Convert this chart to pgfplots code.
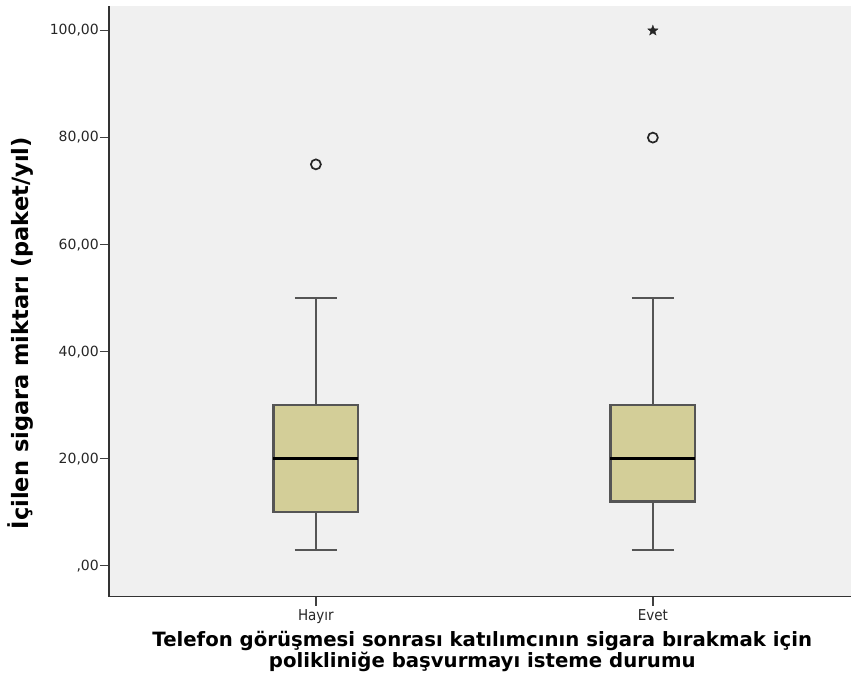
\documentclass[border=0pt]{standalone}
\usepackage{pgfplots}
\pgfplotsset{compat=1.18}
\usepgfplotslibrary{statistics}
\usepackage{fontspec}
\setmainfont{DejaVu Sans}
\newfontfamily\condfont{DejaVu Sans Condensed}
\definecolor{bgc}{RGB}{240,240,240}
\definecolor{boxc}{RGB}{211,206,152}
\definecolor{linec}{RGB}{85,85,85}
\pgfdeclareplotmark{fstar}{%
  \pgfpathmoveto{\pgfpointpolar{90}{\pgfplotmarksize}}%
  \pgfpathlineto{\pgfpointpolar{126}{0.42\pgfplotmarksize}}%
  \pgfpathlineto{\pgfpointpolar{162}{\pgfplotmarksize}}%
  \pgfpathlineto{\pgfpointpolar{198}{0.42\pgfplotmarksize}}%
  \pgfpathlineto{\pgfpointpolar{234}{\pgfplotmarksize}}%
  \pgfpathlineto{\pgfpointpolar{270}{0.42\pgfplotmarksize}}%
  \pgfpathlineto{\pgfpointpolar{306}{\pgfplotmarksize}}%
  \pgfpathlineto{\pgfpointpolar{342}{0.42\pgfplotmarksize}}%
  \pgfpathlineto{\pgfpointpolar{18}{\pgfplotmarksize}}%
  \pgfpathlineto{\pgfpointpolar{54}{0.42\pgfplotmarksize}}%
  \pgfpathclose\pgfusepathqfillstroke}
\begin{document}
\begin{tikzpicture}
\begin{axis}[
  scale only axis, width=742pt, height=590.7pt,
  at={(0,0)}, anchor=south west,
  xmin=3.86, xmax=25.88, ymin=-5.8, ymax=104.6,
  axis x line*=bottom, axis y line*=left,
  axis line style={line width=1.5pt, color=black!80},
  axis background/.style={fill=bgc},
  xtick={10,20}, xticklabels={Hayır,Evet},
  ytick={0,20,40,60,80,100},
  yticklabels={{,00},{20,00},{40,00},{60,00},{80,00},{100,00}},
  tick align=outside, major tick length=9pt,
  tick style={line width=1.5pt, color=black!75},
  yticklabel style={font=\fontsize{14}{14}\selectfont, color=black!85, inner xsep=1pt},
  xticklabel style={font=\condfont\fontsize{15}{15}\selectfont, color=black!85},
  ylabel={\bfseries İçilen sigara miktarı (paket/yıl)},
  ylabel style={font=\fontsize{22.5}{22.5}\selectfont, at={(axis description cs:-0.119,0.446)}, anchor=center},
  xlabel={\bfseries Telefon görüşmesi sonrası katılımcının sigara bırakmak için\\\bfseries polikliniğe başvurmayı isteme durumu},
  xlabel style={font=\fontsize{19.7}{18.5}\selectfont, align=center, at={(axis description cs:0.503,0)}, anchor=center, yshift=-55pt},
  clip=false,
  boxplot/draw direction=y,
  boxplot/every box/.style={draw=linec, line width=2.2pt, fill=boxc},
  boxplot/every whisker/.style={draw=linec, line width=2.2pt},
  boxplot/every median/.style={draw=black, line width=3.3pt},
]
\addplot[boxplot prepared={draw direction=y, draw position=10, lower whisker=3, lower quartile=10, median=20, upper quartile=30, upper whisker=50, box extend=2.52, whisker extend=1.25},
  draw=linec, line width=2.2pt, fill=boxc, mark=o, mark size=5pt, mark options={draw=black!85, line width=1.7pt, fill=none}]
  table[row sep=\\, y index=0] {75\\};
\addplot[boxplot prepared={draw direction=y, draw position=20, lower whisker=3, lower quartile=12, median=20, upper quartile=30, upper whisker=50, box extend=2.52, whisker extend=1.25},
  draw=linec, line width=2.2pt, fill=boxc, mark=o, mark size=5pt, mark options={draw=black!85, line width=1.7pt, fill=none}]
  table[row sep=\\, y index=0] {80\\};
\addplot[only marks, mark=fstar, mark size=5.5pt, mark options={fill=black!85, draw=black!85, line width=0.3pt}]
  coordinates {(20,100)};
\end{axis}
\pgfresetboundingbox
\path[use as bounding box] (-109pt,-85.3pt) rectangle (742pt,596.7pt);
\end{tikzpicture}
\end{document}
